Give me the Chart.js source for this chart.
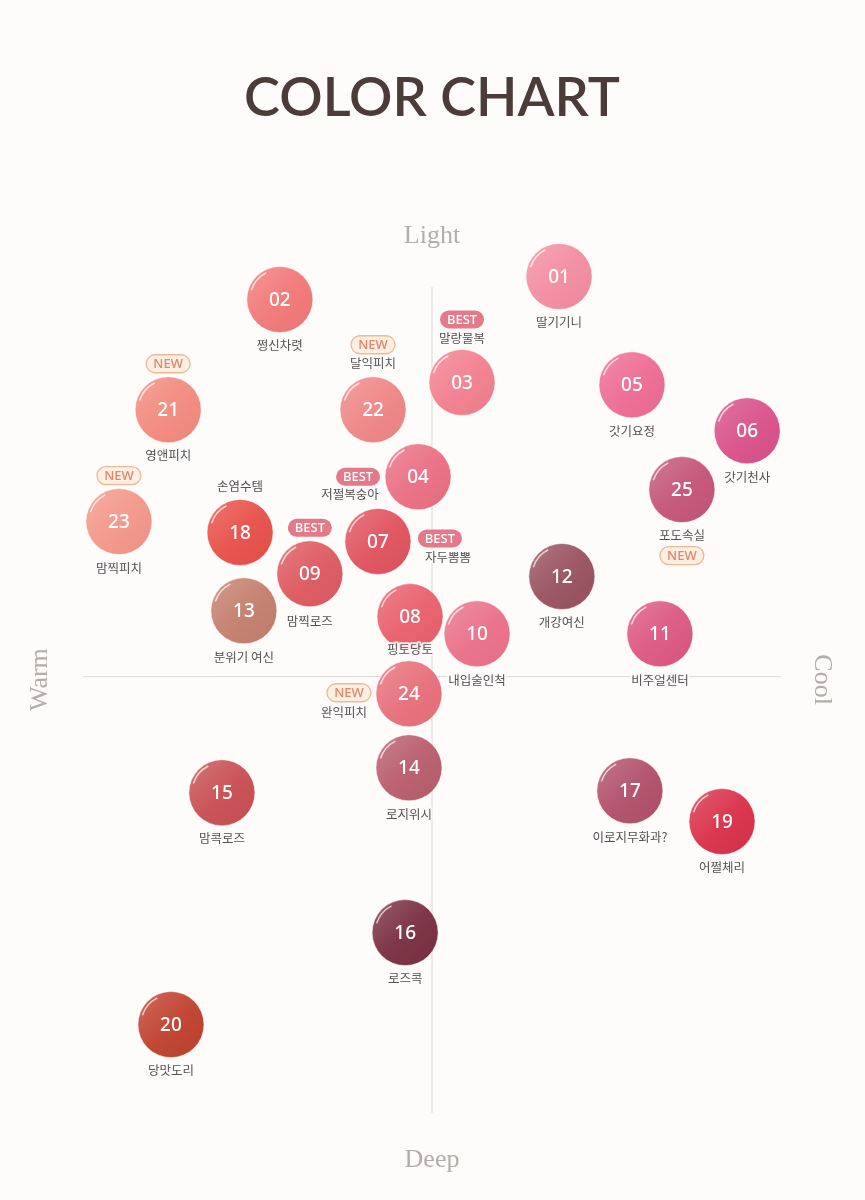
<!DOCTYPE html>
<html><head><meta charset="utf-8">
<script src="https://cdn.jsdelivr.net/npm/chart.js@4.4.1/dist/chart.umd.min.js"></script>
<style>html,body{margin:0;padding:0;background:#fdfcfb;}canvas{display:block}</style>
</head><body>
<canvas id="c" width="865" height="1200"></canvas>
<script>
// ---- data ----
const codes = ['01','02','03','04','05','06','07','08','09','10','11','12','13','14','15','16','17','18','19','20','21','22','23','24','25'];
const names = ['딸기기니','쩡신차렷','말랑물복','저쩔복숭아','갓기요정','갓기천사','자두뽐뽐','핑토당토','맘찍로즈','내입술인척','비주얼센터','개강여신','분위기 여신','로지위시','맘콕로즈','로즈콕','이로지무화과?','손염수템','어쩔체리','당맛도리','영앤피치','달익피치','맘찍피치','완익피치','포도속실'];
// Warm (-) ... Cool (+)
const warmCool = [3.64,-4.36,0.86,-0.40,5.73,9.03,-1.55,-0.63,-3.50,1.29,6.53,3.72,-5.39,-0.66,-6.02,-0.77,5.67,-5.50,8.31,-7.48,-7.56,-1.69,-8.97,-0.66,7.16];
// Deep (-) ... Light (+)
const deepLight = [10.27,9.68,7.55,5.13,7.49,6.31,3.47,1.54,2.64,1.10,1.10,2.57,1.69,-2.34,-2.98,-6.57,-2.93,3.70,-3.72,-8.93,6.85,6.85,3.98,-0.44,4.80];
const badges = ['','','BEST','BEST','','','BEST','','BEST','','','','','','','','','','','','NEW','NEW','NEW','NEW','NEW'];
const shades = ['#f38da2','#f27878','#f2808f','#ea6f84','#ee6c94','#d9518b','#e0535f','#e8606d','#dd5a60','#ea7189','#dc5883','#995360','#c47f6e','#b95d6d','#c94f53','#7a3041','#b15069','#e8504a','#d9314a','#c0412f','#f28a7e','#ef8686','#f3978a','#e7707b','#c45578'];
const axisTitles = {top:'Light', bottom:'Deep', left:'Warm', right:'Cool'};
const chartTitle = 'COLOR CHART';

// ---- label layout (pixel offsets from circle centre) ----
const layout = {
  '03': {name:[0,-44], badge:[0,-63]},
  '04': {name:[-68,18], badge:[-60,0]},
  '07': {name:[70,16], badge:[62,-3]},
  '08': {name:[0,33]},
  '09': {name:[0,47], badge:[0,-46]},
  '18': {name:[0,-46]},
  '21': {name:[0,46], badge:[0,-46]},
  '22': {name:[0,-46], badge:[0,-65]},
  '23': {name:[0,47], badge:[0,-46]},
  '24': {name:[-65,18], badge:[-60,-1]},
  '25': {name:[0,46], badge:[0,66]}
};

function roundRect(ctx,x,y,w,h,r){
  ctx.beginPath();
  ctx.moveTo(x+r,y);ctx.lineTo(x+w-r,y);ctx.arc(x+w-r,y+r,r,-Math.PI/2,Math.PI/2);
  ctx.lineTo(x+r,y+h);ctx.arc(x+r,y+r,r,Math.PI/2,Math.PI*1.5);ctx.closePath();
}

const decor = {
  id:'decor',
  beforeDatasetsDraw(chart){
    const ctx=chart.ctx, xs=chart.scales.x, ys=chart.scales.y;
    const x0=xs.getPixelForValue(0), y0=ys.getPixelForValue(0);
    ctx.save();
    ctx.strokeStyle='#dcdad8';ctx.lineWidth=1;
    ctx.beginPath();
    ctx.moveTo(x0,ys.top);ctx.lineTo(x0,ys.bottom);
    ctx.moveTo(xs.left,y0);ctx.lineTo(xs.right,y0);
    ctx.stroke();
    // title
    ctx.fillStyle='#4b3b39';ctx.textAlign='center';ctx.textBaseline='middle';
    ctx.font='600 54px Lato';
    ctx.fillText(chartTitle,432,99);
    // axis titles
    ctx.fillStyle='#b3adab';ctx.font='26px "Liberation Serif"';
    ctx.fillText(axisTitles.top,x0,236);
    ctx.fillText(axisTitles.bottom,x0,1160);
    ctx.save();ctx.translate(40,y0+3);ctx.rotate(-Math.PI/2);ctx.fillText(axisTitles.left,0,0);ctx.restore();
    ctx.save();ctx.translate(822,y0+3);ctx.rotate(Math.PI/2);ctx.fillText(axisTitles.right,0,0);ctx.restore();
    ctx.restore();
  },
  afterDatasetsDraw(chart){
    const ctx=chart.ctx, meta=chart.getDatasetMeta(0);
    ctx.save();
    ctx.textAlign='center';ctx.textBaseline='middle';
    meta.data.forEach((pt,i)=>{
      const {x,y}=pt.getProps(['x','y'],true);
      const r=33;
      // gloss
      const g=ctx.createLinearGradient(x-r,y-r,x+r,y+r);
      g.addColorStop(0,'rgba(255,255,255,0.22)');
      g.addColorStop(0.5,'rgba(255,255,255,0.04)');
      g.addColorStop(1,'rgba(0,0,0,0.03)');
      ctx.fillStyle=g;ctx.beginPath();ctx.arc(x,y,r,0,Math.PI*2);ctx.fill();
      ctx.strokeStyle='rgba(255,255,255,0.7)';ctx.lineWidth=1.5;
      ctx.beginPath();ctx.arc(x,y,r-3,Math.PI*1.1,Math.PI*1.35);ctx.stroke();
      // number
      ctx.fillStyle='#ffffff';ctx.font='500 19px "Noto Sans"';
      ctx.fillText(codes[i],x,y+1);
      const L=layout[codes[i]]||{};
      const n=L.name||[0,46];
      ctx.font='12.5px "Noto Sans CJK KR"';
      ctx.strokeStyle='rgba(253,252,251,0.85)';ctx.lineWidth=4;ctx.lineJoin='round';
      ctx.strokeText(names[i],x+n[0],y+n[1]);
      ctx.fillStyle='#555150';
      ctx.fillText(names[i],x+n[0],y+n[1]);
      if(badges[i]){
        const b=L.badge||[0,-46];
        const bx=x+b[0], by=y+b[1], w=44, h=18;
        if(badges[i]==='NEW'){
          roundRect(ctx,bx-w/2,by-h/2,w,h,h/2);
          ctx.fillStyle='#fdefe2';ctx.fill();
          ctx.strokeStyle='#efb896';ctx.lineWidth=1.3;ctx.stroke();
          ctx.fillStyle='#e3866a';
        } else {
          roundRect(ctx,bx-w/2,by-h/2,w,h,h/2);
          ctx.fillStyle='#e47a89';ctx.fill();
          ctx.fillStyle='#ffffff';
        }
        ctx.font='500 13px "Noto Sans"';
        ctx.fillText(badges[i],bx,by+1);
      }
    });
    ctx.restore();
  }
};

new Chart(document.getElementById('c'),{
  type:'scatter',
  data:{datasets:[{
    data:warmCool.map((v,i)=>({x:v,y:deepLight[i]})),
    backgroundColor:shades,
    borderColor:'rgba(255,255,255,0.5)',
    borderWidth:1,
    pointRadius:33,pointHoverRadius:33,
    clip:false
  }]},
  options:{
    responsive:false,animation:false,events:[],
    layout:{padding:{left:83,right:84,top:287,bottom:87}},
    scales:{
      x:{type:'linear',min:-10,max:10,display:false},
      y:{type:'linear',min:-11.2,max:10,display:false}
    },
    plugins:{legend:{display:false},tooltip:{enabled:false},title:{display:false}}
  },
  plugins:[decor]
});
</script>
</body></html>
